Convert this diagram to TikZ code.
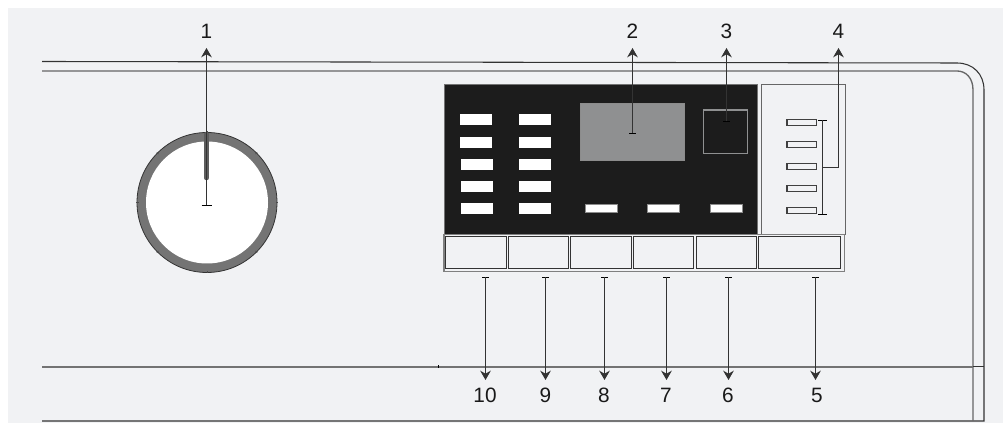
\documentclass[tikz,border=0pt]{standalone}
\usepackage{fontspec}
\setmainfont{Liberation Sans}
\usetikzlibrary{arrows.meta,calc}
\definecolor{bgc}{HTML}{F1F2F4}
\definecolor{panelc}{HTML}{1C1C1C}
\definecolor{ringc}{HTML}{747474}
\definecolor{dispc}{HTML}{8F9091}
\tikzset{
  x=0.75pt,y=-0.75pt,
  numlabel/.style={font=\fontsize{15.6pt}{17pt}\selectfont,text=black!90,inner sep=0pt},
  leader/.style={draw=black!80,line width=0.72pt,-{Stealth[length=7pt,width=8pt]}},
  tickmark/.style={draw=black,line width=1pt},
  outline/.style={draw=black!80,line width=0.8pt},
  whitekey/.style={fill=white,draw=none},
  smallkey/.style={fill=white,draw=black!45,line width=0.4pt},
  slot/.style={fill=bgc,draw=black!75,line width=0.9pt},
  stripkey/.style={fill=bgc,draw=black!80,line width=0.8pt},
}
\begin{document}
\begin{tikzpicture}
\useasboundingbox (0,0) rectangle (1003,423);
\fill[white] (0,0) rectangle (1003,423);
\fill[bgc] (8,8) rectangle (1003,423);
% washer body outline
\draw[outline] (42,61.5) -- (957,63) .. controls (973,63) and (984,74) .. (984,90) -- (984,421) -- (42,421);
\draw[black!60,line width=1pt] (42,71) -- (957,71) .. controls (966,71) and (973,78) .. (973,90) -- (973,421);
\draw[black!55,line width=2.2pt] (42,367) -- (973,367);
\draw[black,line width=0.4pt] (438,365.5) -- (438,368.5);
\draw[black!80,line width=0.4pt] (973,366) -- (984,366);
% dial
\fill[ringc,draw=black!80,line width=0.6pt] (207,202.5) circle (70);
\fill[white] (207,202.5) circle (61);
\foreach \a in {0,45,...,315}
  \draw[black!70,line width=0.5pt] ($(207,202.5)+(\a:68.5)$) -- ($(207,202.5)+(\a:71)$);
\draw[ringc!80!black,line width=3.4pt,line cap=round] (206.5,134) -- (206.5,178);
% black panel
\fill[panelc,draw=black!55,line width=0.6pt] (444,84) rectangle (757,234);
\foreach \yy in {114,137}
  \fill[whitekey] (460,\yy) rectangle (492,\yy+11);
\foreach \yy in {159,181,203}
  \fill[whitekey] (461,\yy) rectangle (493,\yy+11);
\foreach \yy in {114,137,159,181,203}
  \fill[whitekey] (519,\yy) rectangle (551,\yy+11);
\fill[dispc,draw=black!45,line width=0.4pt] (580,103) rectangle (684,160);
\draw[dispc,line width=1.4pt] (703.5,110) rectangle (747.5,153.5);
\foreach \xx in {585,647.5,710}
  \fill[smallkey] (\xx,204.5) rectangle (\xx+32,212.5);
% right panel
\draw[black!60,line width=0.7pt] (761,84) rectangle (845,234);
\foreach \yy in {119.5,141.5,163.5,185.5,207.5}
  \draw[slot] (787,\yy) rectangle (816.5,\yy+6);
% button strip
\draw[black!50,line width=1.3pt] (444,234.5) rectangle (844.5,271.5);
\foreach \xa/\xb in {445.5/506.5,508.5/568.5,570.5/631.5,633.5/693.5,696.5/756.5,758.5/840.5}
  \draw[stripkey] (\xa,236.5) rectangle (\xb,268.5);
% leaders
\coordinate (t1) at (206.5,205.5);
\coordinate (t2) at (632.5,133.5);
\coordinate (t3) at (726.5,121.5);
\coordinate (t4a) at (822.5,120.5);
\coordinate (t4b) at (822.5,214.5);
\coordinate (t4m) at (822.5,167.5);
\coordinate (t4c) at (838.5,167.5);
\coordinate (e1) at (206.5,48);
\coordinate (e2) at (632.5,48);
\coordinate (e3) at (726.5,48);
\coordinate (e4) at (838.5,48);
\node[numlabel] (n1) at (206.5,31) {1};
\node[numlabel] (n2) at (632.5,31) {2};
\node[numlabel] (n3) at (726.5,31) {3};
\node[numlabel] (n4) at (838.5,31) {4};
\draw[tickmark] ($(t1)+(-5,0)$) -- ($(t1)+(5,0)$);
\draw[tickmark] ($(t2)+(-3.5,0)$) -- ($(t2)+(3.5,0)$);
\draw[tickmark] ($(t3)+(-3.5,0)$) -- ($(t3)+(3.5,0)$);
\draw[leader] (t1) -- (e1);
\draw[leader] (t2) -- (e2);
\draw[leader] (t3) -- (e3);
\draw[tickmark] ($(t4a)+(-4.5,0)$) -- ($(t4a)+(4.5,0)$);
\draw[tickmark] ($(t4b)+(-4.5,0)$) -- ($(t4b)+(4.5,0)$);
\draw[black!80,line width=0.72pt] (t4a) -- (t4b);
\draw[leader] (t4m) -- (t4c) -- (e4);
\foreach \lab/\xx/\lx in {5/815.5/817,6/728.5/728,7/666.5/666,8/604.5/604,9/545.5/545.5,10/485.5/485}{
  \coordinate (b\lab) at (\xx,277.5);
  \coordinate (e\lab) at (\xx,380);
  \node[numlabel] (m\lab) at (\lx,395) {\lab};
  \draw[tickmark] ($(b\lab)+(-3.5,0)$) -- ($(b\lab)+(3.5,0)$);
  \draw[leader] (b\lab) -- (e\lab);
}
\end{tikzpicture}
\end{document}
